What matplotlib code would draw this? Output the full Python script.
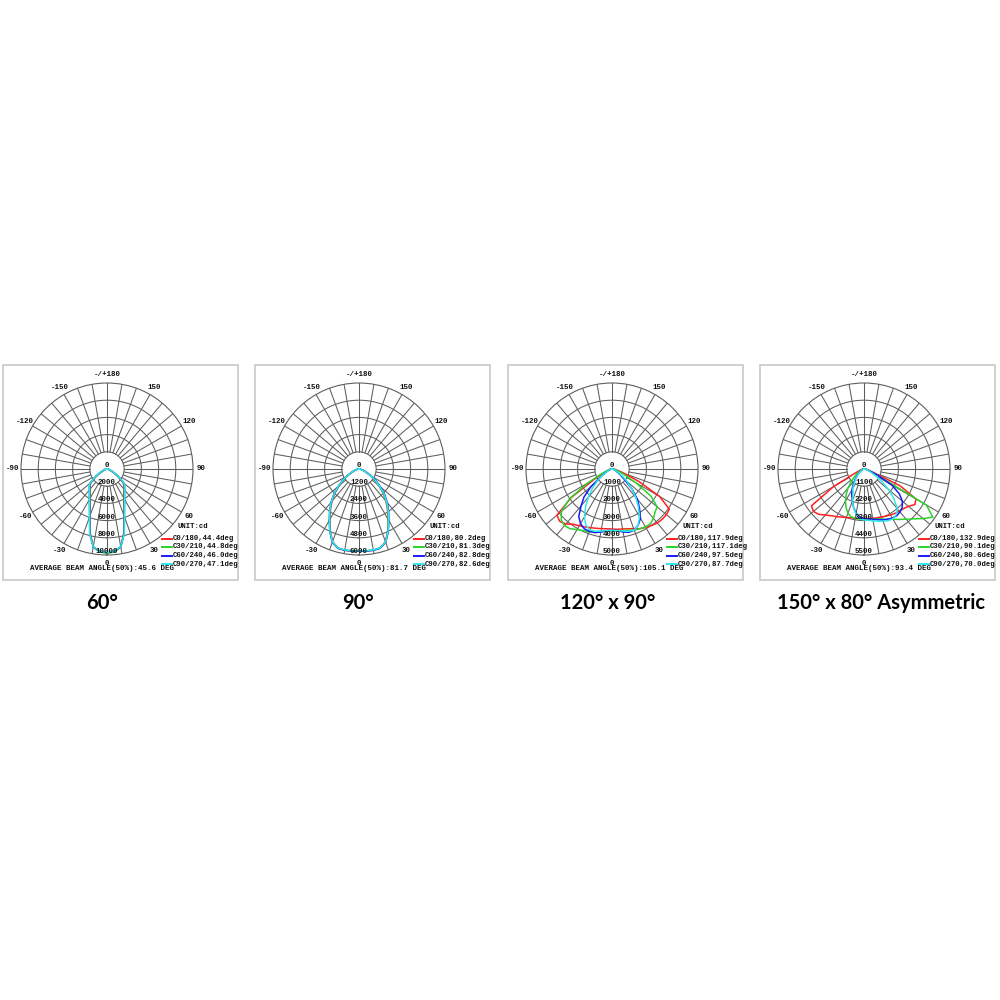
import numpy as np
import matplotlib.pyplot as plt
from matplotlib.patches import Rectangle
from matplotlib.lines import Line2D

# gamma angles of the photometric curves (deg), 0 = straight down
gamma = list(range(-90, 95, 5))

# panel 1 : 60 deg lens (cd)
p1_c0 = [20, 60, 120, 230, 350, 580, 1050, 1630, 2440, 2790, 3070, 3440, 3950, 4650, 5780, 7640, 9190, 9650, 9770,
         9650, 9190, 7640, 5780, 4650, 3950, 3440, 3070, 2790, 2440, 1630, 1050, 580, 350, 230, 120, 60, 20]
p1_c30 = [20, 60, 130, 240, 370, 600, 1080, 1680, 2480, 2830, 3110, 3480, 4000, 4700, 5830, 7700, 9220, 9680, 9800,
          9680, 9220, 7700, 5830, 4700, 4000, 3480, 3110, 2830, 2480, 1680, 1080, 600, 370, 240, 130, 60, 20]
p1_c60 = [20, 70, 140, 260, 400, 650, 1150, 1800, 2560, 2900, 3180, 3550, 4080, 4800, 5900, 7750, 9200, 9600, 9720,
          9600, 9200, 7750, 5900, 4800, 4080, 3550, 3180, 2900, 2560, 1800, 1150, 650, 400, 260, 140, 70, 20]
p1_c90 = [20, 70, 140, 260, 410, 670, 1180, 1850, 2600, 2940, 3220, 3600, 4120, 4850, 5950, 7800, 9180, 9580, 9700,
          9580, 9180, 7800, 5950, 4850, 4120, 3600, 3220, 2940, 2600, 1850, 1180, 670, 410, 260, 140, 70, 20]

# panel 2 : 90 deg lens (cd)
p2_c0 = [20, 50, 100, 200, 350, 560, 900, 1330, 1810, 2370, 2930, 3470, 4050, 4750, 5400, 5700, 5760, 5740, 5720,
         5740, 5760, 5700, 5400, 4750, 4050, 3470, 2930, 2370, 1810, 1330, 900, 560, 350, 200, 100, 50, 20]
p2_c30 = [20, 50, 100, 210, 360, 580, 930, 1370, 1860, 2420, 2980, 3520, 4100, 4780, 5420, 5700, 5750, 5730, 5710,
          5730, 5750, 5700, 5420, 4780, 4100, 3520, 2980, 2420, 1860, 1370, 930, 580, 360, 210, 100, 50, 20]
p2_c60 = [20, 50, 110, 220, 380, 610, 970, 1420, 1920, 2480, 3030, 3570, 4150, 4820, 5450, 5720, 5760, 5740, 5720,
          5740, 5760, 5720, 5450, 4830, 4170, 3600, 3080, 2540, 1980, 1470, 1020, 650, 400, 230, 110, 50, 20]
p2_c90 = [20, 50, 110, 220, 380, 600, 960, 1410, 1910, 2470, 3020, 3560, 4140, 4800, 5430, 5700, 5740, 5720, 5700,
          5720, 5740, 5700, 5430, 4800, 4140, 3560, 3020, 2470, 1910, 1410, 960, 600, 380, 220, 110, 50, 20]

# panel 3 : 120 x 90 lens (cd)
p3_c0 = [0, 60, 120, 170, 290, 520, 1160, 2900, 4180, 4300, 4180, 3920, 3810, 3720, 3630, 3570, 3520, 3490, 3490,
         3520, 3540, 3600, 3690, 3830, 3920, 4010, 4100, 4130, 4130, 4070, 3200, 1740, 810, 410, 230, 120, 60]
p3_c30 = [0, 60, 120, 170, 350, 700, 1630, 3020, 3830, 4180, 4300, 4240, 4070, 3950, 3890, 3780, 3690, 3630, 3600,
          3600, 3630, 3690, 3780, 3830, 3890, 3890, 3750, 3540, 3430, 2790, 1630, 810, 460, 290, 170, 90, 30]
p3_c60 = [0, 30, 60, 120, 170, 290, 460, 810, 1600, 2300, 2790, 3370, 3660, 3830, 3860, 3830, 3720, 3600, 3570,
          3600, 3720, 3810, 3780, 3600, 3310, 2790, 2300, 1650, 930, 580, 350, 230, 150, 90, 60, 30, 0]
p3_c90 = [0, 30, 60, 120, 170, 290, 460, 760, 1160, 1630, 2150, 2670, 3200, 3600, 3780, 3750, 3660, 3600, 3570,
          3600, 3660, 3750, 3780, 3600, 3200, 2670, 2150, 1630, 1160, 760, 460, 290, 170, 120, 60, 30, 0]

# panel 4 : 150 x 80 asymmetric lens (cd)
p4_c0 = [0, 60, 130, 190, 320, 640, 2240, 4100, 4220, 4100, 3840, 3650, 3520, 3390, 3300, 3230, 3200, 3170, 3170,
         3170, 3200, 3230, 3260, 3330, 3390, 3460, 3520, 3580, 3710, 3970, 3840, 2560, 640, 320, 190, 100, 30]
p4_c30 = [0, 30, 60, 100, 160, 260, 380, 580, 830, 1150, 1600, 1980, 2370, 2720, 3010, 3170, 3200, 3200, 3200,
          3210, 3250, 3320, 3410, 3550, 3710, 3940, 4190, 4510, 4930, 5380, 4610, 960, 380, 220, 130, 60, 30]
p4_c60 = [0, 20, 40, 60, 100, 160, 220, 320, 450, 640, 900, 1220, 1540, 1860, 2180, 2560, 2880, 3100, 3170,
          3200, 3260, 3360, 3460, 3550, 3620, 3650, 3580, 3460, 3200, 2750, 2050, 1020, 450, 220, 130, 60, 30]
p4_c90 = [0, 20, 30, 50, 80, 130, 190, 290, 420, 580, 800, 1090, 1440, 1650, 2180, 2560, 2940, 3200, 3260,
          3300, 3360, 3460, 3550, 3650, 3680, 3580, 3330, 2700, 2100, 1400, 850, 500, 320, 190, 100, 50, 20]

curves = [[p1_c0, p1_c30, p1_c60, p1_c90],
          [p2_c0, p2_c30, p2_c60, p2_c90],
          [p3_c0, p3_c30, p3_c60, p3_c90],
          [p4_c0, p4_c30, p4_c60, p4_c90]]

ring_steps = [2000, 1200, 1000, 1100]
legend_labels = [['C0/180,44.4deg', 'C30/210,44.8deg', 'C60/240,46.0deg', 'C90/270,47.1deg'],
                 ['C0/180,80.2deg', 'C30/210,81.3deg', 'C60/240,82.8deg', 'C90/270,82.6deg'],
                 ['C0/180,117.9deg', 'C30/210,117.1deg', 'C60/240,97.5deg', 'C90/270,87.7deg'],
                 ['C0/180,132.9deg', 'C30/210,90.1deg', 'C60/240,80.6deg', 'C90/270,70.0deg']]
avg_beam = ['45.6', '81.7', '105.1', '93.4']
titles = ['60°', '90°', '120° x 90°', '150° x 80° Asymmetric']

angle_ticks = [0, 30, 60, 90, 120, 150, 180, -150, -120, -90, -60, -30]
angle_labels = ['0', '30', '60', '90', '120', '150', '-/+180', '-150', '-120', '-90', '-60', '-30']

colors = ['#ff2020', '#2ad42a', '#1a1aff', '#2ee8e8']
grid_c = '#5e5e5e'
mono = dict(family='Liberation Mono', weight='bold', color='#111111')

W = 1000.0
box_left = [3, 255, 508, 760]
box_top, box_bot, box_w = 365, 580, 235
title_x = [102, 358, 608, 881]
R = 86

fig = plt.figure(figsize=(10, 10), dpi=100)
fig.patch.set_facecolor('white')

th_full = np.linspace(0, 2 * np.pi, 361)
theta = np.radians(gamma)

for i in range(4):
    L = box_left[i]
    fig.add_artist(Rectangle((L / W, 1 - box_bot / W), box_w / W, (box_bot - box_top) / W,
                             transform=fig.transFigure, fill=False, ec='#c8c8c8', lw=1.2))

    cx, cy = L + 104, 469
    ax = fig.add_axes([(cx - R) / W, 1 - (cy + R) / W, 2 * R / W, 2 * R / W], projection='polar')
    ax.set_theta_zero_location('S')
    ax.set_theta_direction(1)
    step = ring_steps[i]
    rmax = 5 * step
    ax.set_ylim(0, rmax)
    ax.set_xticks([])
    ax.set_yticks([])
    ax.grid(False)
    ax.spines['polar'].set_color(grid_c)
    ax.spines['polar'].set_linewidth(0.8)

    # grid: rings and spokes
    for k in range(1, 5):
        ax.plot(th_full, [k * step] * len(th_full), color=grid_c, lw=0.75)
    for a in range(0, 360, 10):
        ax.plot([np.radians(a)] * 2, [step, rmax], color=grid_c, lw=0.75)

    for k in range(4):
        ax.plot(theta, curves[i][k], color=colors[k], lw=1.1)

    for k in range(6):
        ax.text(0, k * step, str(k * step), ha='center', va='bottom', fontsize=5.4, **mono)
    for a, lab in zip(angle_ticks, angle_labels):
        ax.text(np.radians(a), rmax * 1.1, lab, ha='center', va='center', fontsize=5.4, **mono)

    # legend block
    fig.text((L + 190) / W, 1 - 527 / W, 'UNIT:cd', ha='center', va='center', fontsize=5.2, **mono)
    for k in range(4):
        y = 538.5 + 8.5 * k
        fig.add_artist(Line2D([(L + 159) / W, (L + 169) / W], [1 - y / W, 1 - y / W],
                              transform=fig.transFigure, color=colors[k], lw=1.4))
        fig.text((L + 170) / W, 1 - y / W, legend_labels[i][k], ha='left', va='center', fontsize=5.2, **mono)
    fig.text((L + 27) / W, 1 - 569 / W, 'AVERAGE BEAM ANGLE(50%):' + avg_beam[i] + ' DEG',
             ha='left', va='center', fontsize=5.4, **mono)

    fig.text(title_x[i] / W, 1 - 603 / W, titles[i], ha='center', va='center',
             fontsize=14.5, family='Lato', weight='bold', color='black')

fig.savefig('out.png', dpi=100, facecolor='white')
